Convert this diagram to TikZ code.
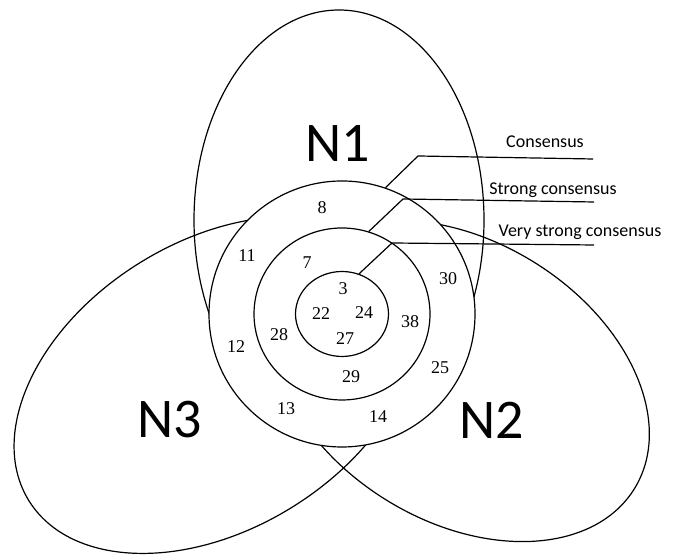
\documentclass[tikz,border=0pt]{standalone}
\usepackage{fontspec}
\setmainfont{Liberation Serif}
\newfontfamily\labelfont{Carlito}
\usetikzlibrary{shapes.geometric}

\tikzset{set/.style={line width=0.6pt},
         ring/.style={draw, line width=0.6pt, fill=white, inner sep=0pt},
         leader/.style={line width=0.6pt},
         num/.style={font=\fontsize{9}{10}\selectfont},
         setname/.style={font=\labelfont\fontsize{28}{30}\selectfont, anchor=base},
         level/.style={font=\labelfont\fontsize{9}{10}\selectfont, anchor=base}}

\begin{document}
\begin{tikzpicture}[x=0.5pt, y=0.5pt]
            \useasboundingbox (0,0) rectangle (674,560);
            % the three sets
            \draw[set] (339,340) ellipse [x radius=145, y radius=210];
            \draw[set, rotate around={-31.7:(460,179)}] (460,179) ellipse [x radius=205, y radius=140];
            \draw[set, rotate around={31.7:(216,175)}] (216,175) ellipse [x radius=220, y radius=144];
            % consensus levels
            \node[ring, circle, minimum size=133pt] (outer) at (342,246) {};
            \node[ring, ellipse, minimum width=88pt, minimum height=86pt] (middle) at (342,246) {};
            \node[ring, ellipse, minimum width=46.5pt, minimum height=42.5pt] (inner) at (342,246) {};
            \node[setname] (N1) at (338,398) {N1};
            \node[setname] (N2) at (492,121) {N2};
            \node[setname] (N3) at (170,122) {N3};
            % leaders
            \coordinate (consknee) at (418,404);
            \coordinate (consend) at (593,401);
            \coordinate (strongknee) at (403,361);
            \coordinate (strongend) at (594,358);
            \coordinate (veryknee) at (392,317);
            \coordinate (veryend) at (594,315);
            \draw[leader] (outer.71) -- (consknee) -- (consend);
            \draw[leader] (middle.72) -- (strongknee) -- (strongend);
            \draw[leader] (inner.67) -- (veryknee) -- (veryend);
            \node[level] (cons) at (545,412) {Consensus};
            \node[level] (strong) at (553,365) {Strong consensus};
            \node[level] (verystrong) at (580,323) {Very strong consensus};
            % items
            \node[num] (i8) at (322,352) {8};
            \node[num] (i11) at (247,304) {11};
            \node[num] (i7) at (307,297) {7};
            \node[num] (i30) at (448,281) {30};
            \node[num] (i3) at (343,271) {3};
            \node[num] (i22) at (321,246) {22};
            \node[num] (i24) at (364,247) {24};
            \node[num] (i38) at (410,238) {38};
            \node[num] (i28) at (279,225) {28};
            \node[num] (i27) at (345,221) {27};
            \node[num] (i12) at (236,213) {12};
            \node[num] (i25) at (440,192) {25};
            \node[num] (i29) at (351,183) {29};
            \node[num] (i13) at (286,151) {13};
            \node[num] (i14) at (378,143) {14};
        \end{tikzpicture}
\end{document}
